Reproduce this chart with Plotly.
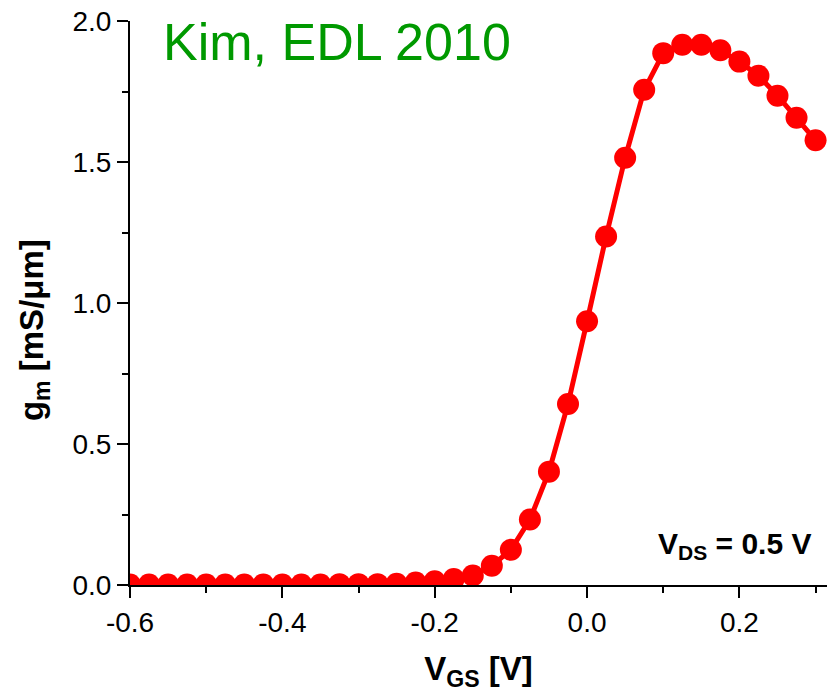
import plotly.graph_objects as go

vgs = [-0.6, -0.575, -0.55, -0.525, -0.5, -0.475, -0.45, -0.425, -0.4, -0.375,
       -0.35, -0.325, -0.3, -0.275, -0.25, -0.225, -0.2, -0.175, -0.15, -0.125,
       -0.1, -0.075, -0.05, -0.025, 0.0, 0.025, 0.05, 0.075, 0.1, 0.125,
       0.15, 0.175, 0.2, 0.225, 0.25, 0.275, 0.3]
gm = [0.002, 0.002, 0.002, 0.002, 0.002, 0.002, 0.002, 0.002, 0.002, 0.002,
      0.002, 0.003, 0.003, 0.003, 0.004, 0.009, 0.013, 0.021, 0.034, 0.068,
      0.125, 0.232, 0.402, 0.642, 0.935, 1.236, 1.515, 1.756, 1.886, 1.916,
      1.916, 1.896, 1.856, 1.806, 1.735, 1.657, 1.577]

x_tickvals = [-0.6, -0.4, -0.2, 0.0, 0.2]
x_ticktext = ["-0.6", "-0.4", "-0.2", "0.0", "0.2"]
y_tickvals = [0.0, 0.5, 1.0, 1.5, 2.0]
y_ticktext = ["0.0", "0.5", "1.0", "1.5", "2.0"]

FONT = "Liberation Sans, Arial, sans-serif"

fig = go.Figure()
fig.add_trace(go.Scatter(
    x=vgs, y=gm, mode="lines+markers",
    line=dict(color="#FF0000", width=5),
    marker=dict(color="#FF0000", size=22),
    cliponaxis=True,
    showlegend=False,
))

fig.update_layout(
    width=827, height=698,
    margin=dict(l=130, r=0, t=21, b=113),
    paper_bgcolor="white", plot_bgcolor="white",
    font=dict(family=FONT, color="black"),
    xaxis=dict(
        range=[-0.6, 0.315], showgrid=False, zeroline=False,
        showline=True, linecolor="black", linewidth=2,
        ticks="outside", ticklen=11, tickwidth=2, tickcolor="black",
        tickmode="array", tickvals=x_tickvals, ticktext=x_ticktext,
        tickfont=dict(size=28, family=FONT),
        minor=dict(ticks="outside", ticklen=6, tickwidth=2, tickcolor="black",
                   tickmode="linear", tick0=-0.5, dtick=0.2),
        title=dict(text="<b>V<sub>GS</sub> [V]</b>", font=dict(size=33, family=FONT), standoff=20),
    ),
    yaxis=dict(
        range=[0, 2.0], showgrid=False, zeroline=False,
        showline=True, linecolor="black", linewidth=2,
        ticks="outside", ticklen=11, tickwidth=2, tickcolor="black",
        tickmode="array", tickvals=y_tickvals, ticktext=y_ticktext,
        tickfont=dict(size=28, family=FONT),
        minor=dict(ticks="outside", ticklen=6, tickwidth=2, tickcolor="black",
                   tickmode="linear", tick0=0.25, dtick=0.5),
    ),
    annotations=[
        dict(text="Kim, EDL 2010", xref="paper", yref="paper", x=0.0445, y=0.9624,
             xanchor="left", yanchor="middle", showarrow=False,
             font=dict(size=52, color="#009900", family=FONT)),
        dict(text="<b>V<sub>DS</sub> = 0.5 V</b>", xref="paper", yref="paper", x=0.98, y=0.07,
             xanchor="right", yanchor="middle", showarrow=False,
             font=dict(size=30, color="black", family=FONT)),
        dict(text="<b>g<sub>m</sub> [mS/μm]</b>", xref="paper", yref="paper", x=-0.1377, y=0.452,
             xanchor="center", yanchor="middle", textangle=-90, showarrow=False,
             font=dict(size=33, color="black", family=FONT)),
    ],
)

fig.write_html("out.html")
